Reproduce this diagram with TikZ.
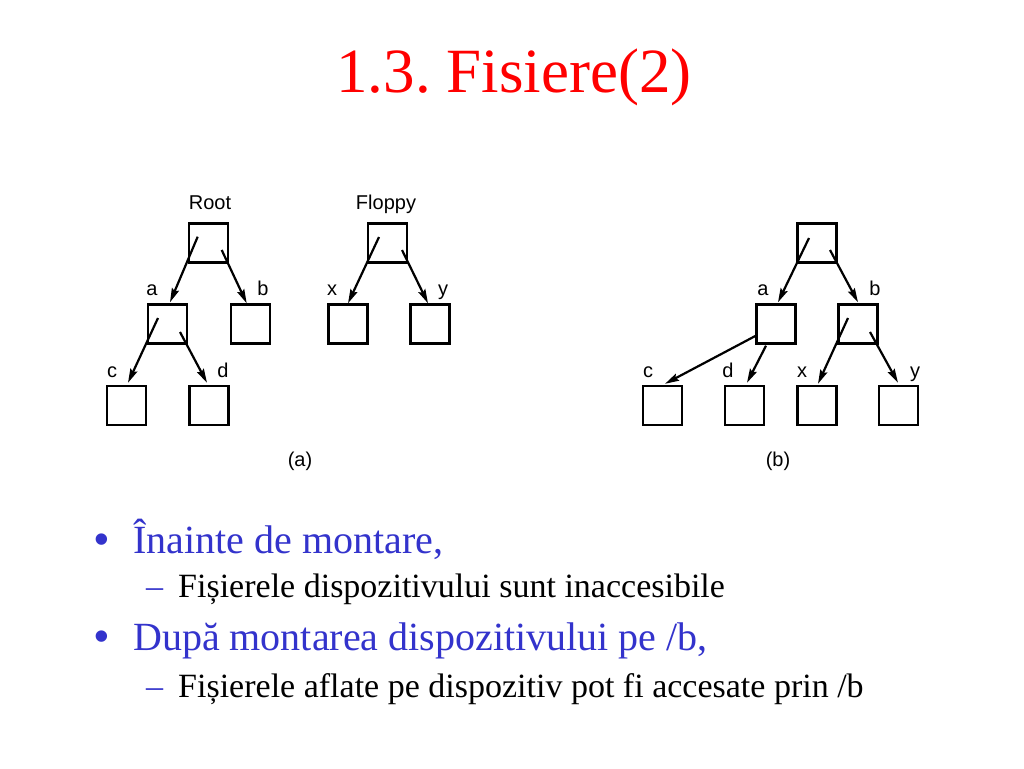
\documentclass[tikz,border=0pt]{standalone}
\usepackage{fontspec}
\setmainfont{Liberation Serif}
\newfontfamily\arialfont{Liberation Sans}
\usetikzlibrary{arrows.meta,calc}
\definecolor{titlered}{RGB}{255,0,0}
\definecolor{bulletblue}{RGB}{51,51,204}
\frenchspacing
\begin{document}
\begin{tikzpicture}[x=1pt,y=-1pt,
  box/.style={draw, line width=2.4pt, minimum size=39pt, inner sep=0pt, anchor=center},
  arr/.style={line width=2.2pt, -{Stealth[length=14pt,width=7.5pt,inset=2pt]}},
  lbl/.style={font=\arialfont\fontsize{20}{24}\selectfont, anchor=base, inner sep=0pt},
  title/.style={font=\fontsize{63}{70}\selectfont, text=titlered, anchor=base, inner sep=0pt},
  lvlone/.style={font=\fontsize{40}{46}\selectfont, text=bulletblue, anchor=base west, inner sep=0pt},
  lvltwo/.style={font=\fontsize{34}{40}\selectfont, text=black, anchor=base west, inner sep=0pt},
  mark1/.style={font=\arialfont\fontsize{42}{46}\selectfont, text=bulletblue, anchor=base west, inner sep=0pt},
  mark2/.style={font=\fontsize{34}{40}\selectfont, text=bulletblue, anchor=base west, inner sep=0pt}]
\fill[white] (0,0) rectangle (1024,768);
\useasboundingbox (0,0) rectangle (1024,768);

% title
\node[title] (ttl) at (514,92) {1.3. Fisiere(2)};

% ---------- tree (a) ----------
\node[box] (R)  at (208.5,243) {};
\node[box] (Fl) at (387.5,243) {};
\node[box] (a)  at (167.5,324) {};
\node[box] (b)  at (250.5,324) {};
\node[box] (x)  at (348,324) {};
\node[box] (y)  at (430,324) {};
\node[box] (c)  at (126.5,405.5) {};
\node[box] (d)  at (209,405.5) {};

\node[lbl] (lR)  at (210,209) {Root};
\node[lbl] (lFl) at (386,209) {Floppy};
\node[lbl] (la)  at (152,295) {a};
\node[lbl] (lb)  at (263,295) {b};
\node[lbl] (lx)  at (332,295) {x};
\node[lbl] (ly)  at (443,295) {y};
\node[lbl] (lc)  at (112,377) {c};
\node[lbl] (ld)  at (223,377) {d};
\node[lbl] (capa) at (300,466) {(a)};

\draw[arr] ([shift={(-10.8,-6.3)}]R.center) -- ([shift={(2.5,-1)}]a.north);
\draw[arr] ([shift={(13.2,7)}]R.center) -- ([shift={(-3.8,0)}]b.north);
\draw[arr] ([shift={(-8.5,-6)}]Fl.center) -- ([shift={(0,0)}]x.north);
\draw[arr] ([shift={(14.5,7)}]Fl.center) -- ([shift={(-2,0)}]y.north);
\draw[arr] ([shift={(-9.5,-6)}]a.center) -- ([shift={(1.5,-2)}]c.north);
\draw[arr] ([shift={(12.5,8)}]a.center) -- ([shift={(-2,-2)}]d.north);

% ---------- tree (b) ----------
\node[box] (T)  at (817,243) {};
\node[box] (a2) at (776,324) {};
\node[box] (b2) at (858,324) {};
\node[box] (c2) at (662.5,405.5) {};
\node[box] (d2) at (744.5,405.5) {};
\node[box] (x2) at (817,405.5) {};
\node[box] (y2) at (898.5,405.5) {};

\node[lbl] (la2) at (763,295) {a};
\node[lbl] (lb2) at (875,295) {b};
\node[lbl] (lc2) at (648,377) {c};
\node[lbl] (ld2) at (728,377) {d};
\node[lbl] (lx2) at (802,377) {x};
\node[lbl] (ly2) at (915,377) {y};
\node[lbl] (capb) at (778,466) {(b)};

\draw[arr] ([shift={(-8,-5)}]T.center) -- ([shift={(2,-1)}]a2.north);
\draw[arr] ([shift={(13,7)}]T.center) -- ([shift={(0,-1)}]b2.north);
\draw[arr] ([shift={(0,12)}]a2.west) -- ([shift={(2.5,-1)}]c2.north);
\draw[arr] ([shift={(-10,1)}]a2.south) -- ([shift={(2.5,-2)}]d2.north);
\draw[arr] ([shift={(-10,-6)}]b2.center) -- ([shift={(1,-1)}]x2.north);
\draw[arr] ([shift={(12,8)}]b2.center) -- ([shift={(-0.5,-2)}]y2.north);

% ---------- bullets ----------
\node[mark1] (m1) at (94,553) {•};
\node[lvlone] (t1) at (133,553) {Înainte de montare,};
\node[mark2] (m2) at (146,597) {–};
\node[lvltwo] (t2) at (178,597) {Fișierele dispozitivului sunt inaccesibile};
\node[mark1] (m3) at (94,650) {•};
\node[lvlone] (t3) at (133,650) {După montarea dispozitivului pe /b,};
\node[mark2] (m4) at (146,697) {–};
\node[lvltwo] (t4) at (178,697) {Fișierele aflate pe dispozitiv pot fi accesate prin /b};
\end{tikzpicture}
\end{document}
